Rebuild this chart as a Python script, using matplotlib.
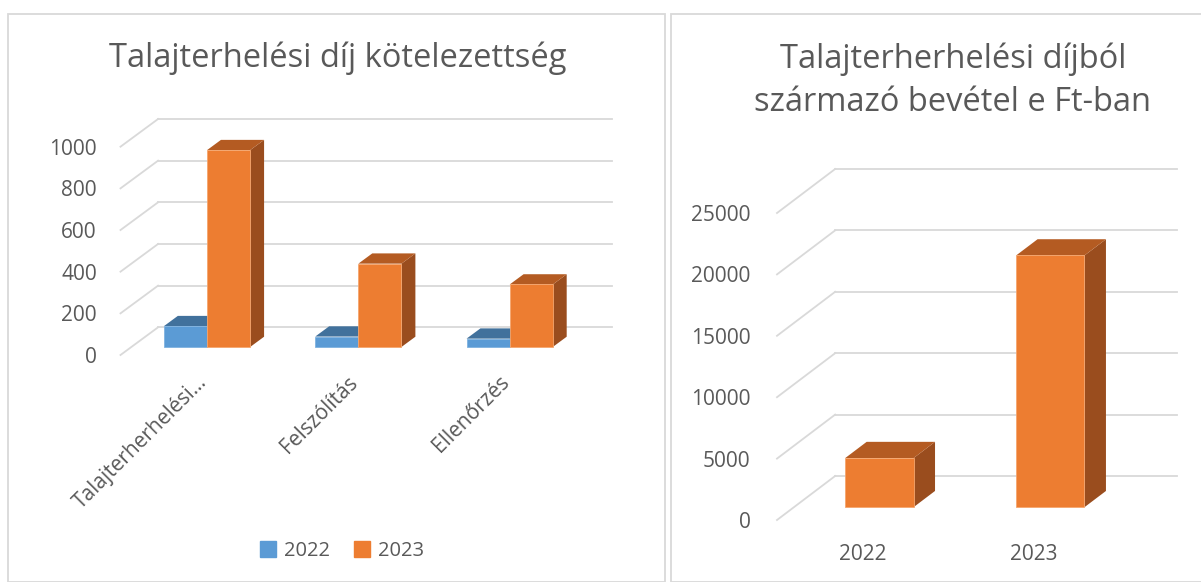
import numpy as np
import matplotlib
matplotlib.use("Agg")
import matplotlib.pyplot as plt
from matplotlib.patches import Polygon, Rectangle, Patch

plt.rcParams['font.family'] = ['Open Sans', 'DejaVu Sans']

# data
categories = ['Talajterherhelési...', 'Felszólítás', 'Ellenőrzés']
vals_2022 = [100, 50, 40]
vals_2023 = [945, 400, 300]
left_ticks = [0, 200, 400, 600, 800, 1000]

years = ['2022', '2023']
revenue = [4000, 20500]
right_ticks = [0, 5000, 10000, 15000, 20000, 25000]

TXT = '#595959'
GRID = '#D9D9D9'
BLUE = ('#5B9BD5', '#41719C', '#3A6690')
ORANGE = ('#ED7D31', '#B45B22', '#9A4D1E')

W, H = 1201, 582
fig = plt.figure(figsize=(W / 100, H / 100), dpi=100)


def px_axes(l, r, b, t):
    return fig.add_axes([l / W, 1 - b / H, (r - l) / W, (b - t) / H])


def box(ax, xc, w, v, DX, DY, cols, f0=0.29, fd=0.37):
    x0 = xc + f0 * DX
    x1 = x0 + w
    y0 = f0 * DY
    y1 = y0 + v
    dx, dy = fd * DX, fd * DY
    ax.add_patch(Polygon([(x1, y0), (x1 + dx, y0 + dy), (x1 + dx, y1 + dy), (x1, y1)],
                         closed=True, fc=cols[2], ec='none', clip_on=False))
    ax.add_patch(Polygon([(x0, y1), (x1, y1), (x1 + dx, y1 + dy), (x0 + dx, y1 + dy)],
                         closed=True, fc=cols[1], ec='none', clip_on=False))
    ax.bar(x0, v, width=w, bottom=y0, align='edge', color=cols[0],
           edgecolor='#F5A66E' if cols is ORANGE else '#7FB2E0', linewidth=0.6, clip_on=False)


def walls(ax, ticks, xmin, xmax, DX, DY):
    for v in ticks:
        ax.plot([xmin + DX, xmax], [v + DY, v + DY], color=GRID, lw=1.3, clip_on=False, zorder=0)
        ax.plot([xmin, xmin + DX], [v, v + DY], color=GRID, lw=1.3, clip_on=False, zorder=0)


def clean(ax):
    for s in ax.spines.values():
        s.set_visible(False)
    ax.tick_params(length=0, colors=TXT)
    ax.set_facecolor('none')


# panel frames
fig.patches.append(Rectangle((8 / W, 0), (665 - 8) / W, 1 - 14 / H, transform=fig.transFigure,
                             fill=False, ec=GRID, lw=1.3))
fig.patches.append(Rectangle((671 / W, 0), (1210 - 671) / W, 1 - 14 / H, transform=fig.transFigure,
                             fill=False, ec=GRID, lw=1.3))

# ---- left chart
DX1 = 37.5 / 151
DY1 = 133
ax1 = px_axes(120.5, 612, 355, 119)
ax1.set_xlim(-0.5, 2.5 + DX1)
ax1.set_ylim(0, 1000 + DY1)
clean(ax1)
walls(ax1, left_ticks, -0.5, 2.5 + DX1, DX1, DY1)
bw = 0.285
xs = np.arange(len(categories))
for i in range(len(categories)):
    box(ax1, xs[i] - bw, bw, vals_2022[i], DX1, DY1, BLUE)
    box(ax1, xs[i], bw, vals_2023[i], DX1, DY1, ORANGE)
ax1.set_yticks(left_ticks)
ax1.set_yticklabels([str(t) for t in left_ticks], fontsize=15, color=TXT)
ax1.tick_params(axis='y', pad=17)
ax1.set_xticks(xs)
ax1.set_xticklabels(categories, rotation=45, ha='right', va='top', rotation_mode='anchor',
                    fontsize=15, color=TXT)
ax1.tick_params(axis='x', pad=12)
fig.text(338 / W, 1 - 58 / H, 'Talajterhelési díj kötelezettség',
         ha='center', va='center', fontsize=23.5, color=TXT)

fig.legend(handles=[Patch(color=BLUE[0], label='2022'), Patch(color=ORANGE[0], label='2023')],
           loc='center', bbox_to_anchor=(342 / W, 1 - 551 / H), ncol=2, frameon=False,
           fontsize=14.5, handlelength=0.8, handleheight=0.8, handletextpad=0.4, columnspacing=1.2,
           labelcolor=TXT)

# ---- right chart
DX2 = 58 / 170.5
DY2 = 3583
ax2 = px_axes(777, 1177, 520, 169)
ax2.set_xlim(-0.5, 1.5 + DX2)
ax2.set_ylim(0, 25000 + DY2)
clean(ax2)
walls(ax2, right_ticks, -0.5, 1.5 + DX2, DX2, DY2)
bw2 = 0.4
xs2 = np.arange(len(years))
for i in range(len(years)):
    box(ax2, xs2[i] - bw2 / 2, bw2, revenue[i], DX2, DY2, ORANGE)
ax2.set_yticks(right_ticks)
ax2.set_yticklabels([str(t) for t in right_ticks], fontsize=15, color=TXT)
ax2.tick_params(axis='y', pad=19)
ax2.set_xticks(xs2)
ax2.set_xticklabels(years, fontsize=15, color=TXT)
ax2.tick_params(axis='x', pad=17)
fig.text(953 / W, 1 - 81 / H, 'Talajterherhelési díjból\nszármazó bevétel e Ft-ban',
         ha='center', va='center', fontsize=23.5, color=TXT, linespacing=1.4)

fig.savefig('out.png', dpi=100)
